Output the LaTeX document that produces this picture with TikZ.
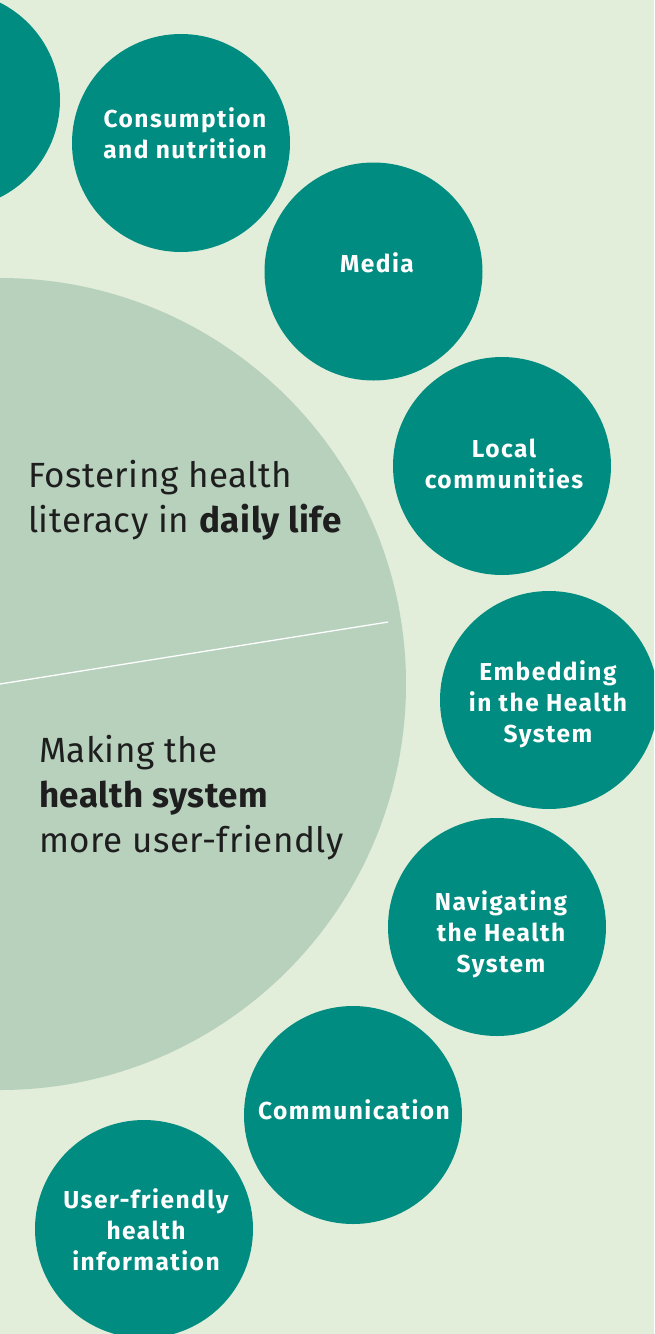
\documentclass[tikz,border=0pt]{standalone}
\usepackage{fontspec}
\setmainfont{Fira Sans}
\newfontfamily\lblfont[LetterSpace=6]{Fira Sans}
\newfontfamily\bigfont[LetterSpace=1.5]{Fira Sans}
\definecolor{bgc}{HTML}{E2EED9}
\definecolor{palec}{HTML}{B7D1BD}
\definecolor{tealc}{HTML}{008C80}
\definecolor{darkc}{HTML}{1E1E1E}
\begin{document}
\begin{tikzpicture}[x=1pt,y=-1pt,
  bubble/.style={circle, fill=tealc, inner sep=0pt, minimum size=218pt},
  blabel/.style={anchor=base, align=center, text=white, font=\lblfont\fontsize{24.5}{31}\selectfont\bfseries},
  bigtext/.style={anchor=base west, align=left, text=darkc, inner sep=0pt, font=\bigfont\fontsize{35}{45}\selectfont}]
\fill[bgc] (0,0) rectangle (654,1334);
\useasboundingbox (0,0) rectangle (654,1334);
\begin{scope}
\clip (0,0) rectangle (654,1334);
\node[circle, fill=palec, inner sep=0pt, minimum size=812pt] (big) at (0,684) {};
\coordinate (divend) at (388,622);
\draw[white, line width=1.3pt] (big.center) -- (divend);
\node[bubble] (c0) at (-49,100) {};
\node[bubble] (c1) at (181,143) {};
\node[bubble] (c2) at (373.5,271.5) {};
\node[bubble] (c3) at (502,466) {};
\node[bubble] (c4) at (549,700) {};
\node[bubble] (c5) at (497,927) {};
\node[bubble] (c6) at (353,1115) {};
\node[bubble] (c7) at (144,1229) {};
\end{scope}
\node[blabel] (l1) at (185,158) {Consumption\\and nutrition};
\node[blabel] (l2) at (377,272) {Media};
\node[blabel] (l3) at (504,488) {Local\\communities};
\node[blabel] (l4) at (548,742) {Embedding\\in the Health\\System};
\node[blabel] (l5) at (501,972) {Navigating\\the Health\\System};
\node[blabel] (l6) at (354,1119) {Communication};
\node[blabel] (l7) at (146,1270) {User-friendly\\health\\information};
\node[bigtext] (t1) at (28,532) {Fostering health\\literacy in \textbf{daily life}};
\node[bigtext] (t2) at (39,852) {Making the\\\textbf{health system}\\more user-friendly};
\end{tikzpicture}
\end{document}
